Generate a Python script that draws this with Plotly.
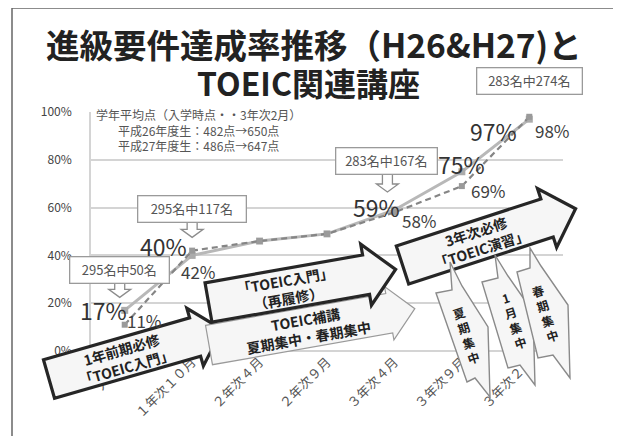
import math
import plotly.graph_objects as go

# ---------------- data ----------------
categories = ["入学時", "１年次１０月", "２年次４月", "２年次９月", "３年次４月", "３年次９月", "３年次２月"]
h26_rate = [0.17, 0.40, 0.46, 0.49, 0.59, 0.75, 0.97]   # solid series
h27_rate = [0.11, 0.42, 0.46, 0.49, 0.58, 0.69, 0.98]   # dashed series
y_tick_vals = [0, 0.2, 0.4, 0.6, 0.8, 1.0]
y_tick_text = ["0%", "20%", "40%", "60%", "80%", "100%"]
h26_labeled = [0, 1, 4, 5, 6]
h27_labeled = [0, 1, 4, 5, 6]
callout_points = [0, 1, 4, 6]
callout_texts = ["295名中50名", "295名中117名", "283名中167名", "283名中274名"]
title_line1 = "進級要件達成率推移（H26&H27)と"
title_line2 = "TOEIC関連講座"
score_note = ["学年平均点（入学時点・・3年次2月）", "平成26年度生：482点→650点", "平成27年度生：486点→647点"]
arrow_texts = ["1年前期必修<br>「TOEIC入門」", "「TOEIC入門」<br>（再履修）",
               "TOEIC補講<br>夏期集中・春期集中", "3年次必修<br>「TOEIC演習」"]
banner_texts = ["夏<br>期<br>集<br>中", "1<br>月<br>集<br>中", "春<br>期<br>集<br>中"]

# ---------------- layout geometry (style) ----------------
W, H = 621, 436
OFF = 8  # page body margin
ML, PW = 91 - OFF, 472
MT, PH = 112 - OFF, 239
MR = W - ML - PW
MB = H - MT - PH
FONT = "Noto Sans CJK JP, Noto Sans, sans-serif"


def px(x):
    return (x - OFF - ML) / PW


def py(y):
    return (MT + PH - (y - OFF)) / PH


def poly_path(pts):
    return "M " + " L ".join(f"{px(x):.5f},{py(y):.5f}" for x, y in pts) + " Z"


def block_arrow(cx, cy, ang, length, hw, hb, hhw):
    a = math.radians(ang)
    dx, dy = math.cos(a), -math.sin(a)
    nx, ny = -math.sin(a), -math.cos(a)
    local = [(0, hw), (hb, hw), (hb, hhw), (length, 0), (hb, -hhw), (hb, -hw), (0, -hw)]
    return [(cx + u * dx + v * nx, cy + u * dy + v * ny) for u, v in local]


def along(cx, cy, ang, d):
    a = math.radians(ang)
    return cx + d * math.cos(a), cy - d * math.sin(a)


def note(x, y, text, **kw):
    d = dict(x=px(x), y=py(y), xref="paper", yref="paper", text=text, showarrow=False,
             xanchor="center", yanchor="middle")
    d.update(kw)
    return d


fig = go.Figure()

fig.add_trace(go.Scatter(
    x=categories, y=h26_rate, mode="lines+markers",
    line=dict(color="#b8b8b8", width=3),
    marker=dict(symbol="square", size=7, color="#ababab"),
    hoverinfo="skip", showlegend=False))
fig.add_trace(go.Scatter(
    x=categories, y=h27_rate, mode="lines+markers",
    line=dict(color="#858585", width=2.2, dash="6px,4px"),
    marker=dict(symbol="square", size=6, color="#9a9a9a"),
    hoverinfo="skip", showlegend=False))

annotations = []
shapes = []

# frame of the slide
shapes.append(dict(type="line", xref="paper", yref="paper", x0=px(12), x1=px(660), y0=py(8), y1=py(8),
                   line=dict(color="#666", width=1.5)))
shapes.append(dict(type="line", xref="paper", yref="paper", x0=px(12), x1=px(12), y0=py(8), y1=py(470),
                   line=dict(color="#666", width=1.5)))

# data labels
h26_off = {0: (-21, 0), 1: (-29, 9), 4: (-18, 3), 5: (0, 8), 6: (-36, -12)}
h27_off = {0: (20, 4), 1: (6, -21), 4: (25, -8), 5: (27, -4), 6: (23, -14)}
for i in h26_labeled:
    annotations.append(dict(x=categories[i], y=h26_rate[i], xref="x", yref="y",
                            text=f"{round(h26_rate[i] * 100)}%", showarrow=False,
                            xanchor="center", yanchor="middle",
                            xshift=h26_off[i][0], yshift=h26_off[i][1],
                            font=dict(family=FONT, size=23, color="#333")))
for i in h27_labeled:
    annotations.append(dict(x=categories[i], y=h27_rate[i], xref="x", yref="y",
                            text=f"{round(h27_rate[i] * 100)}%", showarrow=False,
                            xanchor="center", yanchor="middle",
                            xshift=h27_off[i][0], yshift=h27_off[i][1],
                            font=dict(family=FONT, size=17, color="#404040")))

# callouts (box + hollow down arrow) anchored to the solid series points
callout_geo = [(-5, 40, 92, -5, 13), (0, 46, 101, 0, 18), (-8, 49, 94, -7, 18), (0, 38, 98, 0, 9)]
for (i, txt), (xs, ys, wd, adx, tip) in zip(zip(callout_points, callout_texts), callout_geo):
    annotations.append(dict(x=categories[i], y=h26_rate[i], xref="x", yref="y", text=txt,
                            showarrow=False, xanchor="center", yanchor="middle",
                            xshift=xs, yshift=ys, width=wd, height=19,
                            bgcolor="white", bordercolor="#9a9a9a", borderwidth=1.3, borderpad=3,
                            font=dict(family=FONT, size=13, color="#555")))
    top = ys - 11
    mid = tip + 8
    pts = [(adx - 5, top), (adx + 5, top), (adx + 5, mid), (adx + 11, mid), (adx, tip),
           (adx - 11, mid), (adx - 5, mid)]
    path = "M " + " L ".join(f"{x},{y}" for x, y in pts) + " Z"
    shapes.append(dict(type="path", xref="x", yref="y", xsizemode="pixel", ysizemode="pixel",
                       xanchor=categories[i], yanchor=h26_rate[i], path=path,
                       fillcolor="white", line=dict(color="#8c8c8c", width=1.3), layer="above"))

# block arrows: (tail x, tail y, angle, length, half width, head base, head half width)
arrows = [
    (49, 379, 16, 180, 20, 152, 30, "#262626", 3.2),
    (209, 345, 10, 209, 20, 183, 27, "#9a9a9a", 1.2),
    (208.5, 302.5, 10, 190, 20, 160, 31, "#262626", 3.2),
    (402.5, 265, 18, 182, 20, 152, 31, "#262626", 3.2),
]
text_dist = [78, 100, 80, 80]
text_idx = [0, 2, 1, 3]
for k, (cx, cy, ang, L, hw, hb, hhw, col, lw) in enumerate(arrows):
    shapes.append(dict(type="path", xref="paper", yref="paper",
                       path=poly_path(block_arrow(cx, cy, ang, L, hw, hb, hhw)),
                       fillcolor="#f6f6f6", line=dict(color=col, width=lw), layer="above"))
    tx, ty = along(cx, cy, ang, text_dist[k])
    annotations.append(note(tx, ty, arrow_texts[text_idx[k]], textangle=-ang,
                            font=dict(family=FONT, size=14, color="#222", weight="bold")))

# banners
banners = [
    [(436, 293), (452, 290), (450, 262), (462, 286), (488, 327), (490, 397), (475, 378), (467, 382)],
    [(482, 282), (498, 278), (495, 255), (508, 276), (533, 312), (535, 385), (520, 365), (508, 368)],
    [(517, 272), (530, 268), (530, 248), (541, 266), (568, 305), (570, 378), (553, 355), (538, 358)],
]
banner_centers = [(466, 335), (513, 320), (545, 313)]
for pts, (bx, by), txt in zip(banners, banner_centers, banner_texts):
    shapes.append(dict(type="path", xref="paper", yref="paper", path=poly_path(pts),
                       fillcolor="#f6f6f6", line=dict(color="#8a8a8a", width=1.4), layer="above"))
    annotations.append(note(bx, by, txt, textangle=-18,
                            font=dict(family=FONT, size=12, color="#222", weight="bold")))

# score note
annotations.append(note(198, 130, "<br>".join(score_note), align="center",
                        bgcolor="white", borderpad=2,
                        font=dict(family=FONT, size=12, color="#555")))

# titles
annotations.append(note(314, 44, title_line1,
                        font=dict(family=FONT, size=33.5, color="#222", weight="bold")))
annotations.append(note(308, 82, title_line2,
                        font=dict(family=FONT, size=32, color="#222", weight="bold")))

fig.update_layout(
    width=W, height=H,
    margin=dict(l=ML, r=MR, t=MT, b=MB, autoexpand=False),
    paper_bgcolor="white", plot_bgcolor="white",
    showlegend=False,
    shapes=shapes, annotations=annotations,
    xaxis=dict(type="category", categoryorder="array", categoryarray=categories,
               range=[-0.5, len(categories) - 0.5], showgrid=False, zeroline=False,
               showline=False, ticks="", tickangle=-45, automargin=False,
               tickfont=dict(family=FONT, size=13, color="#555")),
    yaxis=dict(range=[0, 1.0], tickvals=y_tick_vals, ticktext=y_tick_text,
               showgrid=True, gridcolor="#d4d4d4", gridwidth=1.5,
               zeroline=True, zerolinecolor="#d4d4d4", zerolinewidth=1.5,
               showline=True, linecolor="#d4d4d4", linewidth=1.5,
               ticks="", ticklabelstandoff=15, automargin=False,
               tickfont=dict(family=FONT, size=12, color="#444")),
)

fig.write_html("out.html", config={"displayModeBar": False})
